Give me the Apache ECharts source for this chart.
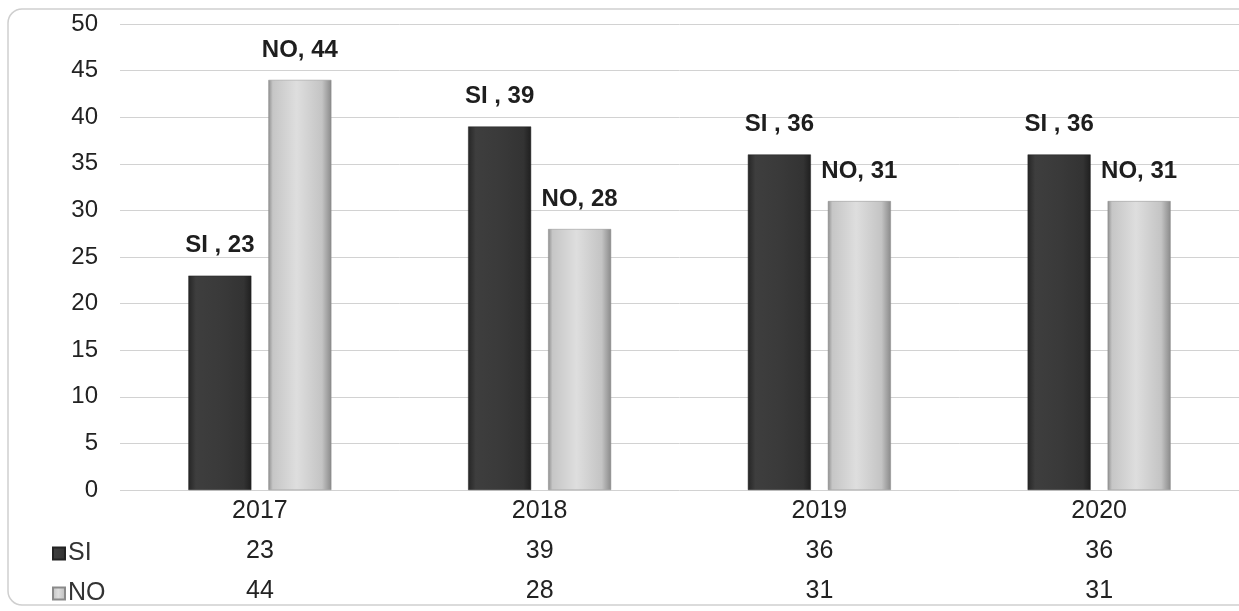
<!DOCTYPE html>
<html>
<head>
<meta charset="utf-8">
<script src="https://cdn.jsdelivr.net/npm/echarts@6/dist/echarts.min.js"></script>
<style>
  html, body { margin: 0; padding: 0; background: #ffffff; }
  #chart { width: 1239px; height: 611px; }
</style>
</head>
<body>
<div id="chart"></div>
<script>
const categories = ['2017', '2018', '2019', '2020'];
const siValues = [23, 39, 36, 36];
const noValues = [44, 28, 31, 31];
const seriesNames = ['SI', 'NO'];
const labelNames = ['SI ', 'NO'];

const chart = echarts.init(document.getElementById('chart'));

const siColor = new echarts.graphic.LinearGradient(0, 0, 1, 0, [
  { offset: 0, color: '#262626' },
  { offset: 0.12, color: '#3e3e3e' },
  { offset: 0.5, color: '#3a3a3a' },
  { offset: 0.88, color: '#333333' },
  { offset: 1, color: '#1f1f1f' }
]);
const noColor = new echarts.graphic.LinearGradient(0, 0, 1, 0, [
  { offset: 0, color: '#8e8e8e' },
  { offset: 0.07, color: '#c6c6c6' },
  { offset: 0.45, color: '#dedede' },
  { offset: 0.85, color: '#c4c4c4' },
  { offset: 1, color: '#8a8a8a' }
]);

const labelStyle = {
  show: true,
  position: 'top',
  distance: 18,
  fontFamily: 'Liberation Sans',
  fontWeight: 'bold',
  fontSize: 24,
  color: '#1e1e1e'
};

function legendAt(name, top) {
  return {
    orient: 'horizontal',
    left: 47,
    top: top,
    itemWidth: 12,
    itemHeight: 12,
    icon: 'rect',
    data: [name],
    selectedMode: false,
    textStyle: { fontFamily: 'Liberation Sans', fontSize: 25, color: '#333333', padding: [0, 0, 0, -2] }
  };
}

chart.setOption({
  backgroundColor: '#ffffff',
  animation: false,
  graphic: [{
    type: 'rect',
    silent: true,
    z: -10,
    shape: { x: 8, y: 9, width: 1260, height: 596, r: 14 },
    style: { fill: 'none', stroke: '#cfcfcf', lineWidth: 1.5 }
  }],
  legend: [legendAt(seriesNames[0], 536), legendAt(seriesNames[1], 576)],
  grid: { left: 120, right: -1, top: 24, bottom: 121, containLabel: false },
  xAxis: {
    type: 'category',
    data: categories,
    axisLine: { show: false },
    axisTick: { show: false },
    axisLabel: {
      margin: 1,
      fontFamily: 'Liberation Sans',
      fontSize: 25,
      color: '#222222',
      lineHeight: 40,
      formatter: (value, index) => value + '\n' + siValues[index] + '\n' + noValues[index]
    }
  },
  yAxis: {
    type: 'value',
    min: 0,
    max: 50,
    interval: 5,
    axisLine: { show: false },
    axisTick: { show: false },
    axisLabel: { margin: 22, fontFamily: 'Liberation Sans', fontSize: 24, color: '#222222', padding: [4, 0, 0, 0] },
    splitLine: { lineStyle: { color: '#d2d2d2', width: 1 } }
  },
  series: [
    {
      name: seriesNames[0],
      type: 'bar',
      data: siValues,
      barWidth: 63,
      barGap: '27%',
      itemStyle: { color: siColor, borderColor: '#222222', borderWidth: 0.5 },
      label: Object.assign({}, labelStyle, { formatter: p => labelNames[0] + ', ' + p.value })
    },
    {
      name: seriesNames[1],
      type: 'bar',
      data: noValues,
      barWidth: 63,
      barGap: '27%',
      itemStyle: { color: noColor, borderColor: '#8a8a8a', borderWidth: 0.5 },
      label: Object.assign({}, labelStyle, { formatter: p => labelNames[1] + ', ' + p.value })
    }
  ]
});
</script>
</body>
</html>
